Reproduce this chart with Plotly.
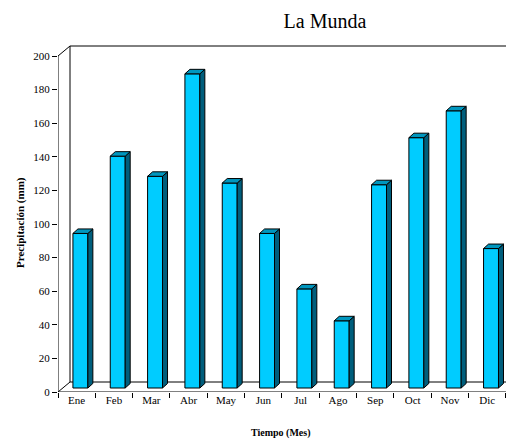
import plotly.graph_objects as go

# datos
meses = ["Ene", "Feb", "Mar", "Abr", "May", "Jun", "Jul", "Ago", "Sep", "Oct", "Nov", "Dic"]
precipitacion = [92, 138, 126, 187, 122, 92, 59, 40, 121, 149, 165, 83]
y_ticks = [0, 20, 40, 60, 80, 100, 120, 140, 160, 180, 200]

idx = list(range(len(meses)))

# la pagina tiene 8px de margen, todo va corrido
W, H = 506, 432
L, T, B = 50, 36, 48           # margenes del area de trazado
PW, PH = W - L, H - T - B

# escala en pixeles (para el falso 3D)
px_x = 37.33          # px por categoria
px_y = 1.68           # px por mm
pared_dx = 12 / px_x  # profundidad de la pared
pared_dy = 10 / px_y
base0 = 4 / px_y      # las barras estan un poco hacia atras
barra_dx = 5 / px_x
barra_dy = 4.5 / px_y
off = -0.1
ancho = 0.4

x_max = -0.5 + PW / px_x
y_max = PH / px_y


def px2paper(px, py):
    # pixeles de la imagen original -> coordenadas paper
    return (px - 8 - L) / PW, (H - B - (py - 8)) / PH


fig = go.Figure()

# caras frontales
fig.add_trace(go.Bar(
    x=idx, y=precipitacion, base=base0, offset=off, width=ancho,
    marker=dict(color="#00CCFF", line=dict(color="black", width=1)),
    hoverinfo="skip"
))

# caras de arriba y laterales
top_x, top_y, lado_x, lado_y = [], [], [], []
for i, v in zip(idx, precipitacion):
    xl = i + off
    xr = xl + ancho
    t = base0 + v
    top_x += [xl, xl + barra_dx, xr + barra_dx, xr, xl, None]
    top_y += [t, t + barra_dy, t + barra_dy, t, t, None]
    lado_x += [xr, xr, xr + barra_dx, xr + barra_dx, xr, None]
    lado_y += [base0, t, t + barra_dy, base0 + barra_dy, base0, None]

fig.add_trace(go.Scatter(x=lado_x, y=lado_y, mode="lines", fill="toself",
                         fillcolor="#005E7C", line=dict(color="black", width=1),
                         hoverinfo="skip"))
fig.add_trace(go.Scatter(x=top_x, y=top_y, mode="lines", fill="toself",
                         fillcolor="#0096BE", line=dict(color="black", width=1),
                         hoverinfo="skip"))

# paredes y piso
bx = -0.5 + pared_dx
lineas = [
    (-0.5, 0, -0.5, 200),                       # eje frontal
    (-0.5, 200, bx, 200 + pared_dy),            # diagonal arriba
    (bx, pared_dy, bx, 200 + pared_dy),         # pared del fondo
    (bx, 200 + pared_dy, x_max + 1, 200 + pared_dy),
    (bx, pared_dy, x_max + 1, pared_dy),        # piso atras
    (-0.5, 0, bx, pared_dy),                    # diagonal piso
    (-0.5, 0, 11.5, 0),                         # piso frente
    (11.5, 0, 11.5 + pared_dx, pared_dy),
]
for x0, y0, x1, y1 in lineas:
    fig.add_shape(type="line", x0=x0, y0=y0, x1=x1, y1=y1, xref="x", yref="y",
                  line=dict(color="black", width=1), layer="below")

fuente = "Liberation Serif, Times New Roman, serif"

tx, ty = px2paper(281, 433)
px_, py_ = px2paper(20, 223)

fig.update_layout(
    width=W, height=H,
    margin=dict(l=L, r=0, t=T, b=B),
    paper_bgcolor="white", plot_bgcolor="white",
    showlegend=False,
    font=dict(family=fuente, size=11, color="black"),
    title=dict(text="La Munda", x=(325 - 8) / W, xanchor="center", xref="container",
               y=1 - (21 - 8) / H, yanchor="middle", yref="container",
               font=dict(family=fuente, size=20, color="black")),
    xaxis=dict(range=[-0.5, x_max], tickmode="array", tickvals=idx, ticktext=meses,
               ticks="", showgrid=False, zeroline=False, showline=False,
               minor=dict(tickmode="array", tickvals=[i - 0.5 for i in range(13)],
                          ticks="outside", ticklen=5, tickcolor="black", showgrid=False),
               tickfont=dict(size=11), fixedrange=True),
    yaxis=dict(range=[0, y_max], tickmode="array", tickvals=y_ticks,
               ticks="outside", ticklen=5, tickcolor="black", showgrid=False,
               zeroline=False, showline=False, tickfont=dict(size=11), fixedrange=True),
    annotations=[
        dict(text="<b>Tiempo (Mes)</b>", x=tx, y=ty, xref="paper", yref="paper",
             xanchor="center", yanchor="middle", showarrow=False, font=dict(size=10)),
        dict(text="<b>Precipitación (mm)</b>", x=px_, y=py_, xref="paper",
             yref="paper", xanchor="center", yanchor="middle", textangle=-90,
             showarrow=False, font=dict(size=11)),
    ],
)

fig.write_html("out.html")
